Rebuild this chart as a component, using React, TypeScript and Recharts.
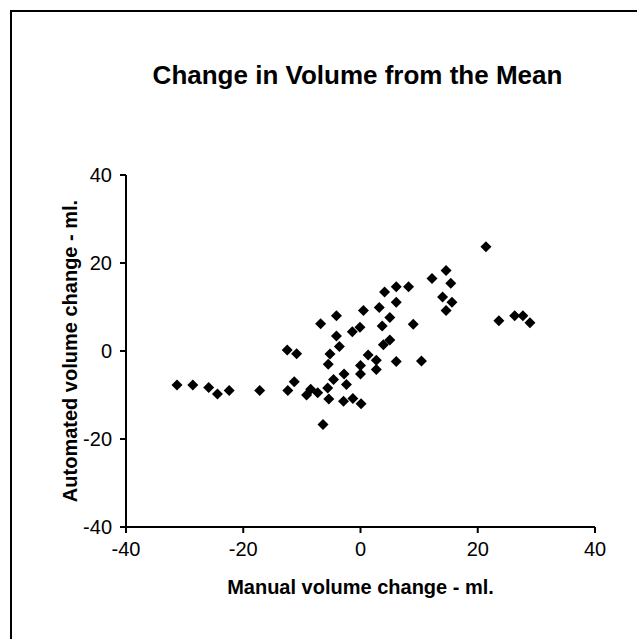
import React from 'react'
import { ScatterChart, Scatter, XAxis, YAxis } from 'recharts'

// values (ml.)
const manualChange = [
  -31.3, -28.6, -25.9, -24.4, -22.4, -17.2, -12.5, -12.4, -11.3, -10.9,
  -9.2, -8.5, -7.3, -6.8, -6.4, -5.6, -5.4, -5.5, -5.2, -4.6,
  -4.1, -4.1, -3.6, -2.8, -2.4, -2.9, -1.3, -1.4, -0.1, 0.0,
  0.0, 0.1, 0.5, 1.3, 2.7, 2.7, 3.2, 3.7, 3.9, 4.1,
  5.0, 5.0, 6.1, 6.1, 6.1, 8.2, 9.0, 10.4, 12.2, 14.0,
  14.6, 14.6, 15.4, 15.6, 21.4, 23.6, 26.3, 27.7, 28.9,
]
const automatedChange = [
  -7.7, -7.7, -8.3, -9.8, -9.0, -9.0, 0.2, -9.0, -7.0, -0.6,
  -10.0, -8.7, -9.5, 6.2, -16.7, -8.4, -10.9, -3.0, -0.7, -6.5,
  8.0, 3.4, 1.0, -5.2, -7.6, -11.4, -10.8, 4.4, 5.4, -5.2,
  -3.3, -12.0, 9.2, -0.9, -2.1, -4.2, 9.9, 5.7, 1.4, 13.4,
  7.6, 2.5, 14.6, 11.1, -2.4, 14.6, 6.1, -2.3, 16.5, 12.3,
  18.3, 9.2, 15.4, 11.1, 23.7, 6.9, 8.0, 8.0, 6.4,
]
const axisTicks = [-40, -20, 0, 20, 40]

const points = manualChange.map((x, i) => ({ x, y: automatedChange[i] }))

const font = '"Liberation Sans", Arial, sans-serif'

const Diamond = (props: any) => {
  const { cx, cy } = props
  const r = 5.5
  return (
    <polygon
      points={`${cx},${cy - r} ${cx + r},${cy} ${cx},${cy + r} ${cx - r},${cy}`}
      fill="#000"
    />
  )
}

const App = () => {
  return (
    <div
      style={{
        position: 'absolute',
        left: 0,
        top: 0,
        width: 637,
        height: 639,
        overflow: 'hidden',
        background: '#fff',
        fontFamily: font,
      }}
    >
      {/* chart frame, runs off the right and bottom edges */}
      <div
        style={{
          position: 'absolute',
          left: 10,
          top: 10,
          width: 700,
          height: 700,
          borderLeft: '2px solid #000',
          borderTop: '2px solid #000',
        }}
      />
      <div
        style={{
          position: 'absolute',
          left: 0,
          top: 62,
          width: 715,
          textAlign: 'center',
          fontSize: 26,
          lineHeight: '26px',
          fontWeight: 'bold',
          color: '#000',
        }}
      >
        Change in Volume from the Mean
      </div>
      <ScatterChart
        width={637}
        height={639}
        margin={{ top: 175, right: 42, bottom: 0, left: 0 }}
        style={{ position: 'absolute', left: 0, top: 0 }}
      >
        <XAxis
          type="number"
          dataKey="x"
          domain={[-40, 40]}
          ticks={axisTicks}
          height={112}
          axisLine={{ stroke: '#000', strokeWidth: 2 }}
          tickLine={{ stroke: '#000', strokeWidth: 2 }}
          tickSize={6}
          tickMargin={9}
          tick={{ fill: '#000', fontSize: 20, fontFamily: font }}
          label={{
            value: 'Manual volume change - ml.',
            position: 'insideTop',
            offset: 53,
            style: { fill: '#000', fontSize: 20, fontWeight: 'bold', fontFamily: font },
          }}
        />
        <YAxis
          type="number"
          dataKey="y"
          domain={[-40, 40]}
          ticks={axisTicks}
          width={126}
          axisLine={{ stroke: '#000', strokeWidth: 2 }}
          tickLine={{ stroke: '#000', strokeWidth: 2 }}
          tickSize={6}
          tickMargin={8}
          tick={{ fill: '#000', fontSize: 20, fontFamily: font }}
          label={{
            value: 'Automated volume change - ml.',
            angle: -90,
            position: 'insideLeft',
            offset: 70,
            style: { fill: '#000', fontSize: 20, fontWeight: 'bold', fontFamily: font, textAnchor: 'middle' },
          }}
        />
        <Scatter data={points} shape={Diamond} isAnimationActive={false} />
      </ScatterChart>
    </div>
  )
}

export default App
